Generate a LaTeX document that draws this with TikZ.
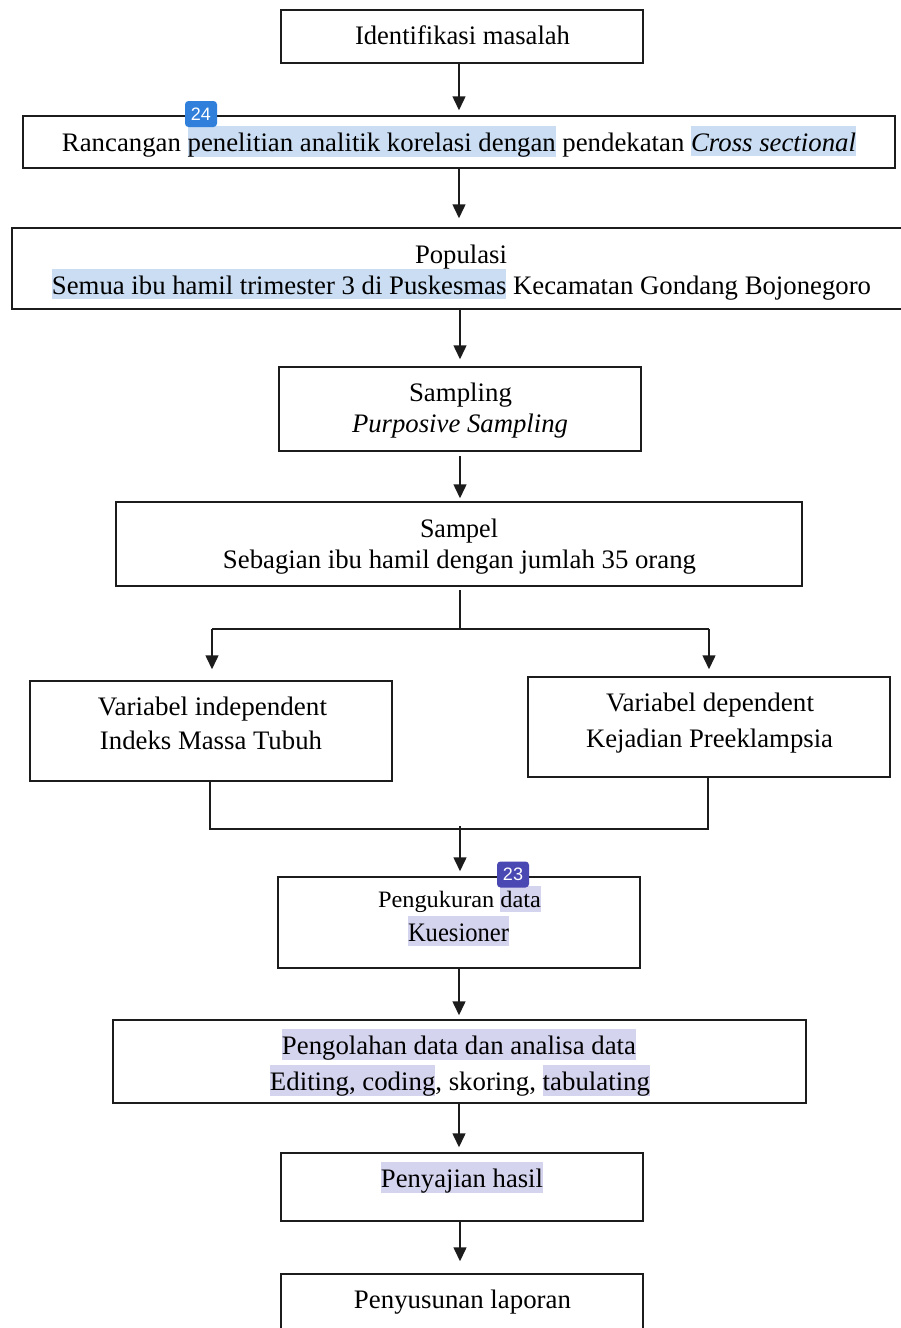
\documentclass[tikz,border=0pt]{standalone}
\usepackage{graphicx}
\usepackage{fontspec}
\setmainfont{Liberation Serif}
\setsansfont{Liberation Sans}
\usetikzlibrary{arrows.meta}
\definecolor{hlblue}{HTML}{CADDF2}
\definecolor{hlpurp}{HTML}{D5D4EE}
\definecolor{bdgblue}{HTML}{2F7FDB}
\definecolor{bdgpurp}{HTML}{4A48B3}
\definecolor{ln}{HTML}{1C1C1C}
\newcommand\hlB[1]{{\setlength{\fboxsep}{0pt}\colorbox{hlblue}{\rule[-0.19em]{0pt}{1.12em}#1}}}
\newcommand\hlP[1]{{\setlength{\fboxsep}{0pt}\colorbox{hlpurp}{\rule[-0.19em]{0pt}{1.12em}#1}}}
\newcommand\fitw[2]{\resizebox{#1pt}{\height}{#2}}
\tikzset{
  box/.style={draw=ln, line width=1.5pt, inner sep=0pt, fill=white},
  txt/.style={inner sep=0pt, anchor=base, font=\fontsize{26.7}{32}\selectfont, text=black},
  conn/.style={draw=ln, line width=1.5pt},
  arr/.style={conn, -{Triangle[length=14pt,width=13pt]}},
  badge/.style={rounded corners=3.5pt, minimum width=32pt, minimum height=26pt, inner sep=0pt,
    text=white, font=\sffamily\fontsize{18}{18}\selectfont}
}
\begin{document}
\begin{tikzpicture}[x=1pt,y=-1pt]
\useasboundingbox (0,0) rectangle (901,1328);
\fill[white] (0,0) rectangle (901,1328);
% boxes
\node[box, minimum width=362pt, minimum height=53pt] (b1) at (462,36.5) {};
\node[box, minimum width=872pt, minimum height=52pt] (b2) at (459,142) {};
\node[box, minimum width=894pt, minimum height=81pt] (b3) at (459,268.5) {};
\node[box, minimum width=362pt, minimum height=84pt] (b4) at (460,409) {};
\node[box, minimum width=686pt, minimum height=84pt] (b5) at (459,544) {};
\node[box, minimum width=362pt, minimum height=100pt] (b6) at (211,731) {};
\node[box, minimum width=362pt, minimum height=100pt] (b7) at (709,727) {};
\node[box, minimum width=362pt, minimum height=91pt] (b8) at (459,922.5) {};
\node[box, minimum width=693pt, minimum height=83pt] (b9) at (459.5,1061.5) {};
\node[box, minimum width=362pt, minimum height=68pt] (b10) at (462,1187) {};
\node[box, minimum width=362pt, minimum height=66pt] (b11) at (462,1307) {};
% texts
\node[txt] (t1) at (462.5,44) {\fitw{215}{Identifikasi masalah}};
\node[txt] (t2) at (459,151) {\fitw{794}{Rancangan \hlB{penelitian analitik korelasi dengan} pendekatan \hlB{\textit{Cross sectional}}}};
\node[txt] (t3a) at (461,263) {\fitw{92}{Populasi}};
\node[txt] (t3b) at (461.5,294) {\fitw{819}{\hlB{Semua ibu hamil trimester 3 di Puskesmas} Kecamatan Gondang Bojonegoro}};
\node[txt] (t4a) at (460.5,401) {\fitw{103}{Sampling}};
\node[txt] (t4b) at (460,432) {\fitw{216}{\textit{Purposive Sampling}}};
\node[txt] (t5a) at (459,537) {\fitw{78}{Sampel}};
\node[txt] (t5b) at (459.5,568) {\fitw{473}{Sebagian ibu hamil dengan jumlah 35 orang}};
\node[txt] (t6a) at (212.5,715) {\fitw{229}{Variabel independent}};
\node[txt] (t6b) at (211,749.5) {\fitw{222}{Indeks Massa Tubuh}};
\node[txt] (t7a) at (710,711) {\fitw{208}{Variabel dependent}};
\node[txt] (t7b) at (709.5,747) {\fitw{247}{Kejadian Preeklampsia}};
\node[txt, font=\fontsize{23.5}{28}\selectfont] (t8a) at (459.5,907.5) {\fitw{163}{Pengukuran \hlP{data}}};
\node[txt] (t8b) at (458.5,941) {\fitw{101}{\hlP{Kuesioner}}};
\node[txt] (t9a) at (459,1054) {\fitw{354}{\hlP{Pengolahan data dan analisa data}}};
\node[txt] (t9b) at (460,1090) {\fitw{380}{\hlP{Editing, coding}, skoring, \hlP{tabulating}}};
\node[txt] (t10) at (462,1187) {\fitw{162}{\hlP{Penyajian hasil}}};
\node[txt] (t11) at (462.5,1308) {\fitw{217}{Penyusunan laporan}};
% connector coordinates
\coordinate (cx) at (459,0);
\coordinate (split) at (460,629);
\coordinate (splitL) at (212,629);
\coordinate (splitR) at (709,629);
\coordinate (mergeL) at (210,829);
\coordinate (mergeR) at (708,829);
\coordinate (merge) at (460,826);
% connectors
\draw[arr, shorten >=5pt] (b1.south -| cx) -- (b2.north -| cx);
\draw[arr, shorten >=9pt] (b2.south -| cx) -- (b3.north -| cx);
\draw[arr, shorten >=7pt] (b3.south -| split) -- (b4.north -| split);
\draw[arr, shorten <=4pt, shorten >=3pt] (b4.south -| split) -- (b5.north -| split);
\draw[conn, shorten <=3pt] (b5.south -| split) -- (split);
\draw[conn] (splitL) -- (splitR);
\draw[arr, shorten >=11pt] (splitL) -- (b6.north -| splitL);
\draw[arr, shorten >=7pt] (splitR) -- (b7.north -| splitR);
\draw[conn] (b6.south -| mergeL) -- (mergeL) -- (mergeR) -- (b7.south -| mergeR);
\draw[arr, shorten >=5pt] (merge) -- (b8.north -| merge);
\draw[arr, shorten >=4pt] (b8.south -| cx) -- (b9.north -| cx);
\draw[arr, shorten >=5pt] (b9.south -| cx) -- (b10.north -| cx);
\draw[arr, shorten >=12pt] (b10.south -| split) -- (b11.north -| split);
% badges
\node[badge, fill=bdgblue] (bg24) at (201,114) {24};
\node[badge, fill=bdgpurp] (bg23) at (513,874.5) {23};
\end{tikzpicture}
\end{document}
